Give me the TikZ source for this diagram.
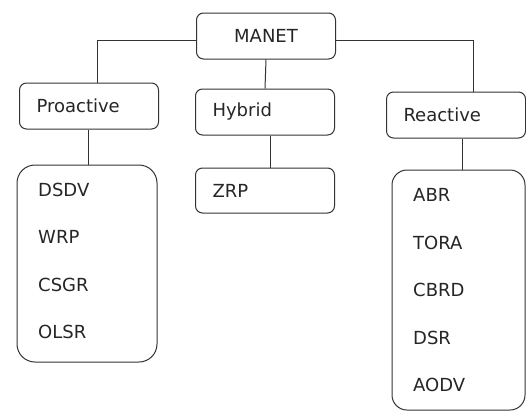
\documentclass[tikz,border=0pt]{standalone}
\usepackage{fontspec}
\setmainfont{DejaVu Sans}
\tikzset{
  box/.style={draw=black!80,line width=1pt,rounded corners=7pt,fill=white,
    minimum width=139pt,minimum height=46pt,inner xsep=17pt,inner ysep=0pt,
    text width=105pt,align=left},
  listbox/.style={draw=black!80,line width=1pt,rounded corners=#1,fill=white,inner sep=0pt},
  item/.style={anchor=west,inner sep=0pt},
  link/.style={draw=black!80,line width=1pt},
}
\begin{document}
\begin{tikzpicture}[x=1pt,y=-1pt,font=\fontsize{18}{21}\selectfont,text=black!85]
            \useasboundingbox (0,0) rectangle (526,413);
            \node[box,align=center] (manet) at (266,36) {MANET};
            \node[box] (pro) at (89,106) {Proactive};
            \node[box] (hyb) at (265,112) {Hybrid};
            \node[box] (rea) at (456,115) {Reactive};
            \node[box,minimum height=45pt] (zrp) at (265,190.5) {ZRP};
            %===========================================
            \node[listbox=18pt,minimum width=140pt,minimum height=197pt] (plist) at (87,263.5) {};
            \node[listbox=15pt,minimum width=133pt,minimum height=240pt] (rlist) at (458.5,290) {};
            \foreach \t [count=\i] in {DSDV,WRP,CSGR,OLSR}
                \node[item] (p\i) at (38,{190+47.3*(\i-1)}) {\t};
            \foreach \t [count=\i] in {ABR,TORA,CBRD,DSR,AODV}
                \node[item] (r\i) at (413,{195+47.5*(\i-1)}) {\t};
            %===========================================
            \draw[link] ([yshift=-4pt]manet.west) -| ([xshift=8pt]pro.north);
            \draw[link] ([yshift=-4pt]manet.east) -| ([xshift=17pt]rea.north);
            \draw[link] (manet.south) -- (hyb.north);
            \draw[link] ([xshift=-1pt]pro.south) -- ([xshift=-1pt]pro.south |- plist.north);
            \draw[link] ([xshift=5pt]hyb.south) -- ([xshift=5pt]hyb.south |- zrp.north);
            \draw[link] ([xshift=6pt]rea.south) -- ([xshift=6pt]rea.south |- rlist.north);
    \end{tikzpicture}
\end{document}
